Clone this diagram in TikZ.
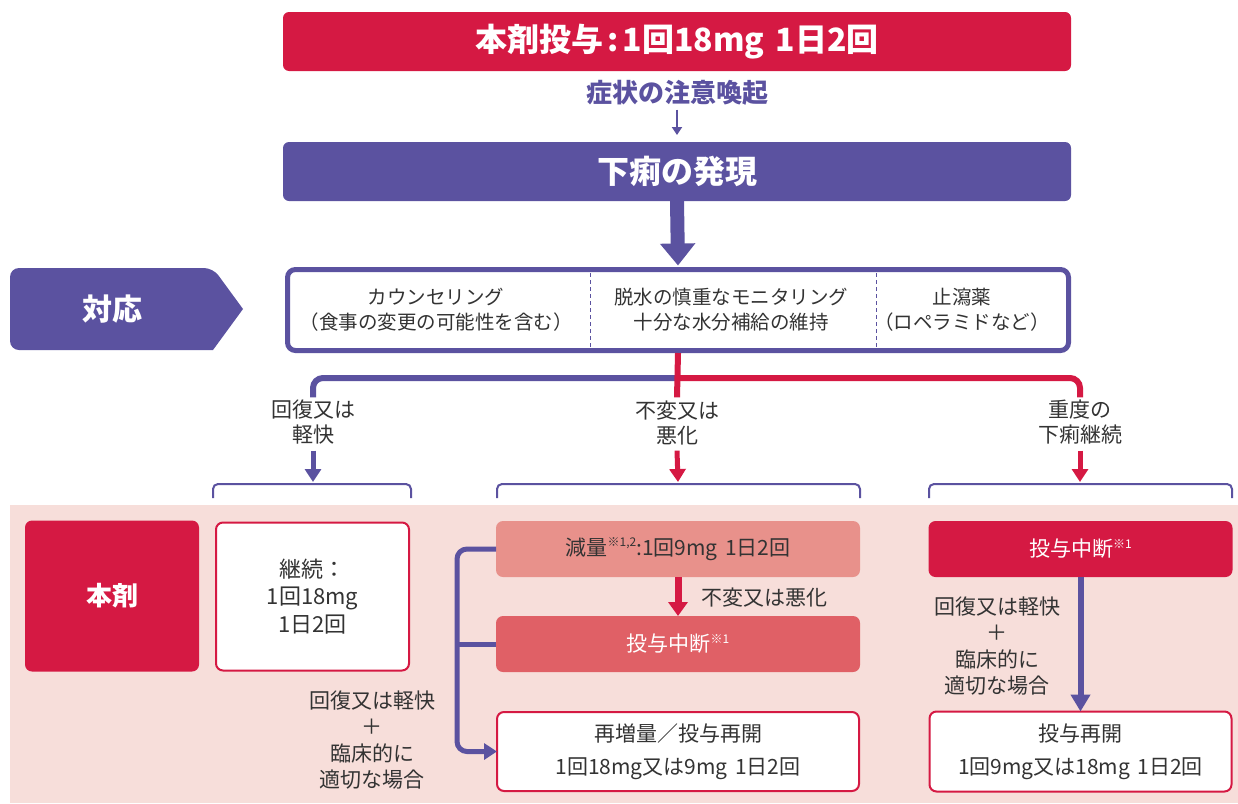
\documentclass[tikz,border=0pt]{standalone}
\usepackage{fontspec}
\setmainfont{Noto Sans CJK JP}
\usetikzlibrary{arrows.meta}
\definecolor{crim}{HTML}{D51943}
\definecolor{purp}{HTML}{5B52A0}
\definecolor{pinkbg}{HTML}{F7DEDA}
\definecolor{salmon}{HTML}{E8918B}
\definecolor{midred}{HTML}{E06066}
\definecolor{txt}{HTML}{333333}
\newcommand{\noteref}[1]{\raisebox{0.75ex}{\fontsize{12}{13}\selectfont #1}}
\newcommand{\gap}{\hspace{0.35em}}
\begin{document}
\begin{tikzpicture}[x=1pt,y=-1pt,
  every node/.style={inner sep=0pt, outer sep=0pt, align=center},
  headbox/.style={rounded corners=6pt, minimum width=788pt, minimum height=59pt, text=white,
    font=\bfseries\fontsize{32}{36}\selectfont},
  tresp/.style={text=txt, font=\fontsize{19.5}{25}\selectfont},
  tlab/.style={text=txt, font=\fontsize{21}{25}\selectfont},
  tnote/.style={text=txt, font=\fontsize{21}{26.3}\selectfont},
  solidbox/.style={rounded corners=7pt, font=\fontsize{21}{26}\selectfont},
  outbox/.style={draw=crim, line width=2pt, fill=white, rounded corners=7pt, text=txt,
    font=\fontsize{21}{33}\selectfont},
  bracket/.style={draw=purp, line width=2pt, rounded corners=5pt},
  branch/.style={line width=6pt, rounded corners=10pt},
  divider/.style={draw=purp, line width=1pt, dash pattern=on 4pt off 3pt}
]
\useasboundingbox (0,0) rectangle (1238,803);
\fill[pinkbg] (10,505) rectangle (1238,803);

% top
\node[headbox, fill=crim] (title) at (677,41.5) {本剤投与\hspace{4pt}:\hspace{4pt}1回18mg\gap 1日2回};
\node[text=purp, font=\bfseries\fontsize{26}{28}\selectfont] (alert) at (677,93) {症状の注意喚起};
\node[headbox, fill=purp] (onset) at (677,171.5) {下痢の発現};
\draw[purp, line width=2pt, -{Triangle[width=10pt,length=8pt]}] ([yshift=-4pt]alert.south) -- ([yshift=7pt]onset.north);

% response
\fill[purp, rounded corners=9pt] (10,268) -- (213,268) [sharp corners] -- (243,309) -- (213,350) [rounded corners=9pt] -- (10,350) -- cycle;
\node[text=white, font=\bfseries\fontsize{30}{34}\selectfont] (taiou) at (112,309) {対応};
\node[draw=purp, line width=5pt, fill=white, rounded corners=8pt, minimum width=781pt, minimum height=81pt] (resp) at (678,310) {};
\draw[purp, line width=14pt, -{Triangle[width=34pt,length=22pt]}] (onset.south) -- ([yshift=4pt]resp.north);
\draw[divider] (590,273) -- (590,348);
\draw[divider] (876,273) -- (876,348);
\node[tresp] (c1) at (436,310) {カウンセリング\\（食事の変更の可能性を含む）};
\node[tresp] (c2) at (731,310) {脱水の慎重なモニタリング\\十分な水分補給の維持};
\node[tresp] (c3) at (962,310) {止瀉薬\\（ロペラミドなど）};

% branches
\node[tlab] (L1) at (313,422.5) {回復又は\\軽快};
\node[tlab] (L2) at (677,422.5) {不変又は\\悪化};
\node[tlab] (L3) at (1080,422.5) {重度の\\下痢継続};
\coordinate (fork) at (678,378);
\draw[purp, branch] (fork) -| ([yshift=3pt]L1.north);
\draw[crim, branch] (fork) -| ([yshift=3pt]L3.north);
\draw[crim, line width=6pt] ([yshift=-2.5pt]resp.south) -- ([yshift=3pt]L2.north);
\coordinate (b1) at (313,482);
\coordinate (b2) at (678,482);
\coordinate (b3) at (1080,482);
\draw[purp, line width=5pt, -{Triangle[width=16pt,length=13pt]}] ([yshift=-6pt]L1.south) -- (b1);
\draw[crim, line width=5pt, -{Triangle[width=16pt,length=13pt]}] ([yshift=-6pt]L2.south) -- (b2);
\draw[crim, line width=5pt, -{Triangle[width=16pt,length=13pt]}] ([yshift=-6pt]L3.south) -- (b3);
\draw[bracket] (213,498) |- (411,484) -- (411,498);
\draw[bracket] (497,498) |- (860,484) -- (860,498);
\draw[bracket] (929,498) |- (1232,484) -- (1232,498);

% bottom
\node[fill=crim, rounded corners=7pt, minimum width=174pt, minimum height=151pt, text=white,
  font=\bfseries\fontsize{26}{30}\selectfont] (drug) at (112,596) {本剤};
\node[outbox, minimum width=193pt, minimum height=148pt, font=\fontsize{22}{27.5}\selectfont] (cont) at (312.5,596.5) {継続：\\1回18mg\\1日2回};
\node[tnote] (n1) at (372,740) {回復又は軽快\\＋\\臨床的に\\適切な場合};

\node[solidbox, fill=salmon, minimum width=364pt, minimum height=56pt, text=txt] (reduce) at (678,549) {減量\noteref{※1,2}:1回9mg\gap 1日2回};
\node[solidbox, fill=midred, minimum width=364pt, minimum height=56pt, text=white] (stop1) at (678,644) {投与中断\noteref{※1}};
\draw[crim, line width=7pt, -{Triangle[width=19pt,length=14pt]}] (reduce.south) -- (stop1.north);
\node[tlab] (worse) at (764,598) {不変又は悪化};
\node[outbox, minimum width=362pt, minimum height=79pt] (restart) at (678,751.5) {再増量／投与再開\\1回18mg又は9mg\gap 1日2回};
\draw[purp, line width=5pt, rounded corners=10pt, -{Triangle[width=16pt,length=13pt]}] (reduce.west) -- ++(-39,0) |- (restart.west);
\draw[purp, line width=5pt] (stop1.west) -- ++(-39,0);

\node[solidbox, fill=crim, minimum width=304pt, minimum height=56pt, text=white] (stop2) at (1080.5,549) {投与中断\noteref{※1}};
\node[outbox, minimum width=302pt, minimum height=80pt] (resume) at (1080.5,751.5) {投与再開\\1回9mg又は18mg\gap 1日2回};
\draw[purp, line width=6pt, -{Triangle[width=19pt,length=17pt]}] (stop2.south) -- (resume.north);
\node[tnote] (n2) at (997,646) {回復又は軽快\\＋\\臨床的に\\適切な場合};
\end{tikzpicture}
\end{document}
